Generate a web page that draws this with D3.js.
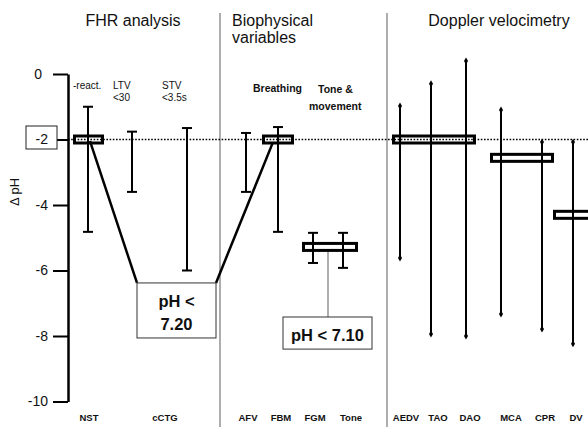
<!DOCTYPE html>
<html>
<head>
<meta charset="utf-8">
<script src="https://cdnjs.cloudflare.com/ajax/libs/d3/7.8.5/d3.min.js"></script>
<style>
  body { margin: 0; background: #fff; }
  text { font-family: "Liberation Sans", Arial, sans-serif; }
</style>
</head>
<body>
<script>
// categories and their slot on the horizontal axis (chart units)
var categories = ["NST", "LTV", "STV", "AFV", "FBM", "FGM", "Tone", "AEDV", "TAO", "DAO", "MCA", "CPR", "DV"];
var slots      = [2.0, 6.4, 11.9, 17.8, 21.0, 24.5, 27.5, 33.2, 36.3, 39.8, 43.3, 47.4, 50.5];
// range of delta pH (upper and lower end of each bar)
var upper = [-1.0, -1.76, -1.65, -1.8, -1.62, -4.85, -4.85, -0.98, -0.3, 0.4, -1.1, -2.08, -2.08];
var lower = [-4.82, -3.6, -6.0, -3.6, -4.82, -5.77, -5.92, -5.62, -7.94, -8.0, -7.33, -7.79, -8.24];
// bar ends: cap or dot
var endStyle = ["cap", "cap", "cap", "cap", "cap", "cap", "cap", "dot", "dot", "dot", "dot", "dot", "dot"];

// median boxes: span in chart units and value
var boxFrom  = [0.5, 19.4, 23.4, 32.4, 42.2, 48.5];
var boxTo    = [3.6, 22.6, 29.0, 40.8, 48.6, 52.7];
var boxValue = [-2, -2, -5.28, -2, -2.56, -4.3];

// bottom labels
var axisLabels = ["NST", "cCTG", "AFV", "FBM", "FGM", "Tone", "AEDV", "TAO", "DAO", "MCA", "CPR", "DV"];
var axisLabelSlots = [2.1, 9.7, 18.0, 21.3, 24.7, 28.3, 33.8, 37.0, 40.2, 44.3, 47.7, 50.8];

var yTicks = [0, -2, -4, -6, -8, -10];
var reference = -2;
var separators = [15.2, 31.9];

var width = 588, height = 444;

var svg = d3.select("body").append("svg")
    .attr("width", width)
    .attr("height", height);

svg.append("rect").attr("width", width).attr("height", height).attr("fill", "#fff");

var xScale = d3.scaleLinear().domain([0, 52]).range([68, 588]);
var yScale = d3.scaleLinear().domain([-10, 0]).range([401.5, 74]);

// group separators
svg.selectAll(".sep")
    .data(separators)
    .enter().append("line")
    .attr("x1", function(d) { return xScale(d); })
    .attr("x2", function(d) { return xScale(d); })
    .attr("y1", 13).attr("y2", 427)
    .attr("stroke", "#777").attr("stroke-width", 1.2);

// group titles
var titles = svg.append("g").attr("font-size", 16).attr("fill", "#111");
titles.append("text").attr("x", xScale(6.5)).attr("y", 26).attr("text-anchor", "middle").text("FHR analysis");
titles.append("text").attr("x", xScale(16.4)).attr("y", 26).text("Biophysical");
titles.append("text").attr("x", xScale(16.4)).attr("y", 43).text("variables");
titles.append("text").attr("x", xScale(43.1)).attr("y", 26).attr("text-anchor", "middle").text("Doppler velocimetry");

// sub headings
var sub = svg.append("g").attr("font-size", 10).attr("fill", "#111");
sub.append("text").attr("x", xScale(0.5)).attr("y", 89).text("-react.");
sub.append("text").attr("x", xScale(4.5)).attr("y", 89).text("LTV");
sub.append("text").attr("x", xScale(4.5)).attr("y", 101).text("<30");
sub.append("text").attr("x", xScale(9.4)).attr("y", 89).text("STV");
sub.append("text").attr("x", xScale(9.4)).attr("y", 101).text("<3.5s");
var subB = svg.append("g").attr("font-size", 10.5).attr("font-weight", "bold").attr("fill", "#111");
subB.append("text").attr("x", xScale(18.5)).attr("y", 92).text("Breathing");
subB.append("text").attr("x", xScale(25.0)).attr("y", 93).text("Tone &");
subB.append("text").attr("x", xScale(24.1)).attr("y", 110).text("movement");

// y axis
var yAxis = d3.axisLeft(yScale)
    .tickValues(yTicks)
    .tickSize(15)
    .tickSizeOuter(0)
    .tickPadding(5)
    .tickFormat(function(d) { return String(d); });

var gy = svg.append("g")
    .attr("transform", "translate(" + xScale(0) + ",0)")
    .call(yAxis);
gy.select(".domain").attr("stroke", "#000").attr("stroke-width", 2.5);
gy.selectAll(".tick line").attr("stroke", "#000").attr("stroke-width", 2);
gy.selectAll(".tick text").attr("font-size", 14).attr("fill", "#111")
    .attr("font-family", "\"Liberation Sans\", Arial, sans-serif");
gy.selectAll(".tick").filter(function(d) { return d === 0; }).select("text").attr("dx", -6);

// boxed reference label
gy.selectAll(".tick").filter(function(d) { return d === reference; })
    .insert("rect", "text")
    .attr("x", -42).attr("y", -14).attr("width", 31).attr("height", 23)
    .attr("fill", "#fff").attr("stroke", "#222").attr("stroke-width", 1);

svg.append("text")
    .attr("transform", "translate(19," + yScale(-3.6) + ") rotate(-90)")
    .attr("text-anchor", "middle")
    .attr("font-size", 13).attr("fill", "#111")
    .text("\u0394 pH");

// dotted reference line
svg.append("line")
    .attr("x1", xScale(0)).attr("x2", width)
    .attr("y1", yScale(reference)).attr("y2", yScale(reference))
    .attr("stroke", "#000").attr("stroke-width", 1.6)
    .attr("stroke-dasharray", "1.6,1.6");

// range bars
var bars = categories.map(function(c, i) {
    return { name: c, x: slots[i], hi: upper[i], lo: lower[i], end: endStyle[i] };
});

svg.selectAll(".bar")
    .data(bars)
    .enter().append("line")
    .attr("x1", function(d) { return xScale(d.x); })
    .attr("x2", function(d) { return xScale(d.x); })
    .attr("y1", function(d) { return yScale(d.hi); })
    .attr("y2", function(d) { return yScale(d.lo); })
    .attr("stroke", "#000").attr("stroke-width", 2);

var capData = [];
bars.forEach(function(d) {
    if (d.end == "cap") {
        capData.push({ x: d.x, y: d.hi });
        capData.push({ x: d.x, y: d.lo });
    }
});
svg.selectAll(".cap")
    .data(capData)
    .enter().append("line")
    .attr("x1", function(d) { return xScale(d.x) - 5; })
    .attr("x2", function(d) { return xScale(d.x) + 5; })
    .attr("y1", function(d) { return yScale(d.y); })
    .attr("y2", function(d) { return yScale(d.y); })
    .attr("stroke", "#000").attr("stroke-width", 2);

var dotData = [];
bars.forEach(function(d) {
    if (d.end == "dot") {
        dotData.push({ x: d.x, y: d.hi });
        dotData.push({ x: d.x, y: d.lo });
    }
});
svg.selectAll(".dot")
    .data(dotData)
    .enter().append("path")
    .attr("transform", function(d) { return "translate(" + xScale(d.x) + "," + yScale(d.y) + ")"; })
    .attr("d", d3.symbol().type(d3.symbolDiamond).size(14))
    .attr("fill", "#000");

// median boxes
var boxes = boxFrom.map(function(f, i) { return { from: f, to: boxTo[i], v: boxValue[i] }; });
svg.selectAll(".box")
    .data(boxes)
    .enter().append("rect")
    .attr("x", function(d) { return xScale(d.from) + 1.5; })
    .attr("width", function(d) { return xScale(d.to) - xScale(d.from) - 3; })
    .attr("y", function(d) { return yScale(d.v) - 3.5; })
    .attr("height", 7)
    .attr("fill", "none")
    .attr("stroke", "#000").attr("stroke-width", 3);

// pH < 7.20 annotation
var ann1 = { x0: 6.9, x1: 14.8, y0: -6.38, y1: -8.06 };
svg.append("line")
    .attr("x1", xScale(2.2)).attr("y1", yScale(-2.05))
    .attr("x2", xScale(ann1.x0)).attr("y2", yScale(ann1.y0))
    .attr("stroke", "#000").attr("stroke-width", 2.5);
svg.append("line")
    .attr("x1", xScale(ann1.x1)).attr("y1", yScale(ann1.y0))
    .attr("x2", xScale(20.5)).attr("y2", yScale(-2.08))
    .attr("stroke", "#000").attr("stroke-width", 2.5);
svg.append("rect")
    .attr("x", xScale(ann1.x0)).attr("y", yScale(ann1.y0))
    .attr("width", xScale(ann1.x1) - xScale(ann1.x0))
    .attr("height", yScale(ann1.y1) - yScale(ann1.y0))
    .attr("fill", "#fff").attr("stroke", "#333").attr("stroke-width", 1);
var t1 = svg.append("text")
    .attr("text-anchor", "middle").attr("font-size", 16.5).attr("font-weight", "bold").attr("fill", "#111");
t1.append("tspan").attr("x", xScale((ann1.x0 + ann1.x1) / 2)).attr("y", 307).text("pH <");
t1.append("tspan").attr("x", xScale((ann1.x0 + ann1.x1) / 2)).attr("y", 330).text("7.20");

// pH < 7.10 annotation
var ann2 = { x0: 21.5, x1: 30.4, y0: -7.42, y1: -8.4 };
svg.append("line")
    .attr("x1", xScale(26.0)).attr("x2", xScale(26.0))
    .attr("y1", yScale(-5.28) + 5).attr("y2", yScale(ann2.y0))
    .attr("stroke", "#777").attr("stroke-width", 1.2);
svg.append("rect")
    .attr("x", xScale(ann2.x0)).attr("y", yScale(ann2.y0))
    .attr("width", xScale(ann2.x1) - xScale(ann2.x0))
    .attr("height", yScale(ann2.y1) - yScale(ann2.y0))
    .attr("fill", "#fff").attr("stroke", "#333").attr("stroke-width", 1);
svg.append("text")
    .attr("x", xScale((ann2.x0 + ann2.x1) / 2)).attr("y", 341)
    .attr("text-anchor", "middle").attr("font-size", 16.5).attr("font-weight", "bold").attr("fill", "#111")
    .text("pH < 7.10");

// bottom category labels
svg.selectAll(".xlabel")
    .data(axisLabels)
    .enter().append("text")
    .attr("x", function(d, i) { return xScale(axisLabelSlots[i]); })
    .attr("y", 421)
    .attr("text-anchor", "middle")
    .attr("font-size", 9.5).attr("font-weight", "bold").attr("fill", "#111")
    .text(function(d) { return d; });
</script>
</body>
</html>
